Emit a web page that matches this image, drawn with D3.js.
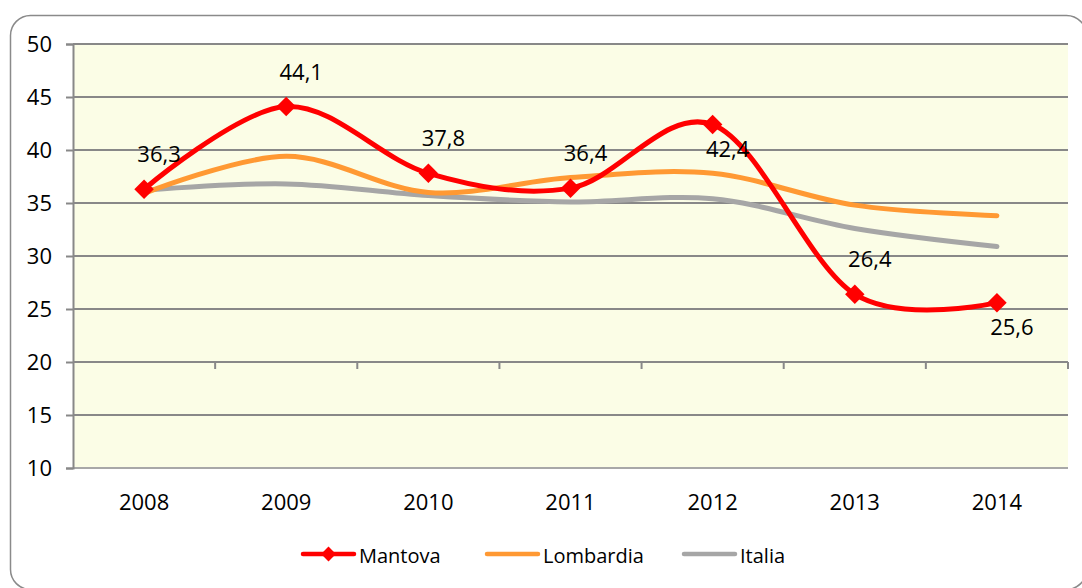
<!DOCTYPE html>
<html>
<head>
<meta charset="utf-8">
<script src="https://cdn.jsdelivr.net/npm/d3@7"></script>
<style>
  body { margin: 0; background: #fff; }
  text { font-family: "Open Sans", "Noto Sans", sans-serif; fill: #000; }
</style>
</head>
<body>
<div id="chart"></div>
<script>
// data
const years = ["2008", "2009", "2010", "2011", "2012", "2013", "2014"];
const mantova = [36.3, 44.1, 37.8, 36.4, 42.4, 26.4, 25.6];
const lombardia = [35.9, 39.4, 36.0, 37.4, 37.8, 34.8, 33.8];
const italia = [36.2, 36.8, 35.7, 35.1, 35.4, 32.6, 30.9];
const yTicks = [10, 15, 20, 25, 30, 35, 40, 45, 50];
// where each Mantova label sits relative to its marker
const labelSide = ["above", "above", "above", "above", "below", "above", "below"];

const W = 1082, H = 588;
const margin = { top: 44, right: 14, bottom: 120, left: 73 };
const width = W - margin.left - margin.right,
  height = H - margin.top - margin.bottom;

const svg = d3.select("#chart").append("svg")
  .attr("width", W).attr("height", H);

// outer frame with round corners
svg.append("rect")
  .attr("x", 10.5).attr("y", 15.5)
  .attr("width", 1076).attr("height", 574)
  .attr("rx", 20)
  .attr("fill", "#fff").attr("stroke", "#8a8a8a").attr("stroke-width", 1.5);

const g = svg.append("g")
  .attr("transform", "translate(" + margin.left + "," + margin.top + ")");

const x = d3.scaleBand().domain(years).range([0, width]);
const y = d3.scaleLinear().domain([10, 50]).range([height, 0]);
const cx = d => x(d) + x.bandwidth() / 2;

// plot background
g.append("rect")
  .attr("width", width).attr("height", height)
  .attr("fill", "#fbfde6");

// horizontal gridlines
g.selectAll(".grid").data(yTicks).enter().append("line")
  .attr("x1", 0).attr("x2", width)
  .attr("y1", d => y(d)).attr("y2", d => y(d))
  .attr("stroke", d => d === 10 ? "#a8a8a8" : "#888")
  .attr("stroke-width", 2);

// value axis
const yAxis = g.append("g")
  .call(d3.axisLeft(y).tickValues(yTicks).tickSize(7).tickPadding(14).tickFormat(d3.format("d")));
yAxis.select(".domain").attr("stroke", "#888").attr("stroke-width", 2);
yAxis.selectAll(".tick line").attr("stroke", "#888").attr("stroke-width", 2);
yAxis.selectAll("text").style("font-size", "22px")
  .style("font-family", "'Open Sans', sans-serif").attr("fill", "#000");

// category tick marks (Excel draws them at the 20 line)
const catTicks = years.slice(1).map(d => x(d)).concat([width]);
g.selectAll(".ctick").data(catTicks).enter().append("line")
  .attr("x1", d => d).attr("x2", d => d)
  .attr("y1", y(20)).attr("y2", y(20) + 7)
  .attr("stroke", "#888").attr("stroke-width", 2);

// category labels
g.selectAll(".xlab").data(years).enter().append("text")
  .attr("x", d => cx(d)).attr("y", height + 42)
  .attr("text-anchor", "middle")
  .style("font-size", "22px")
  .text(d => d);

const line = d3.line()
  .x((d, i) => cx(years[i]))
  .y(d => y(d))
  .curve(d3.curveCardinal.tension(0));

const series = [
  { name: "Italia", values: italia, color: "#a6a6a6" },
  { name: "Lombardia", values: lombardia, color: "#ff9933" },
  { name: "Mantova", values: mantova, color: "#ff0000" }
];

series.forEach(s => {
  g.append("path")
    .attr("d", line(s.values))
    .attr("fill", "none")
    .attr("stroke", s.color)
    .attr("stroke-width", 5)
    .attr("stroke-linecap", "round");
});

// diamond markers for Mantova
const diamond = d3.symbol(d3.symbolSquare, 190);
g.selectAll(".mk").data(mantova).enter().append("path")
  .attr("d", diamond)
  .attr("transform", (d, i) => "translate(" + cx(years[i]) + "," + y(d) + ") rotate(45)")
  .attr("fill", "#ff0000");

// data labels
g.selectAll(".lbl").data(mantova).enter().append("text")
  .attr("x", (d, i) => cx(years[i]) + 15)
  .attr("y", (d, i) => y(d) + (labelSide[i] === "above" ? -27 : 32))
  .attr("text-anchor", "middle")
  .style("font-size", "22px")
  .text(d => d3.format(".1f")(d).replace(".", ","));

// legend
const legendX = [303, 487, 684];
const legendOrder = ["Mantova", "Lombardia", "Italia"];
const lg = svg.append("g").attr("transform", "translate(0,554)");
legendOrder.forEach((name, i) => {
  const s = series.find(t => t.name === name);
  lg.append("line")
    .attr("x1", legendX[i]).attr("x2", legendX[i] + 51)
    .attr("y1", 0).attr("y2", 0)
    .attr("stroke", s.color).attr("stroke-width", 4.5)
    .attr("stroke-linecap", "round");
  if (name === "Mantova") {
    lg.append("path")
      .attr("d", d3.symbol(d3.symbolSquare, 110))
      .attr("transform", "translate(" + (legendX[i] + 25.5) + ",0) rotate(45)")
      .attr("fill", s.color);
  }
  lg.append("text")
    .attr("x", legendX[i] + 56).attr("y", 9)
    .style("font-size", "20px")
    .text(name);
});
</script>
</body>
</html>
